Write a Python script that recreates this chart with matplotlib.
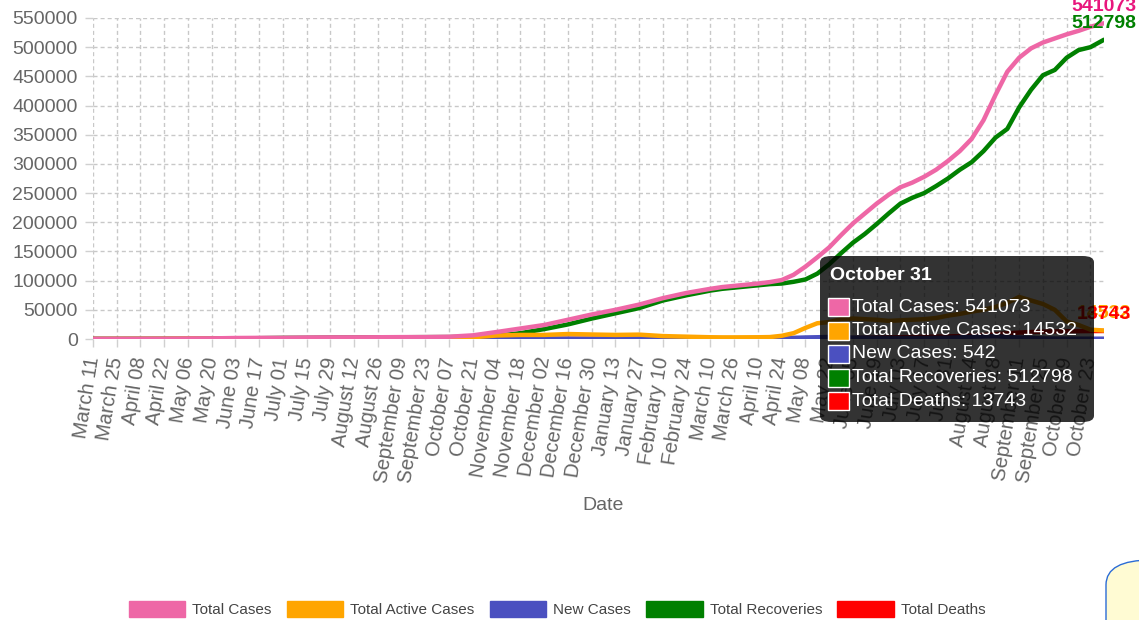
import matplotlib.pyplot as plt
from matplotlib.patches import Patch, FancyBboxPatch, Rectangle

plt.rcParams['font.family'] = ['Liberation Sans', 'DejaVu Sans']

# Tick labels (every 14 records)
tick_labels = ['March 11', 'March 25', 'April 08', 'April 22', 'May 06', 'May 20',
               'June 03', 'June 17', 'July 01', 'July 15', 'July 29', 'August 12',
               'August 26', 'September 09', 'September 23', 'October 07', 'October 21',
               'November 04', 'November 18', 'December 02', 'December 16', 'December 30',
               'January 13', 'January 27', 'February 10', 'February 24', 'March 10',
               'March 26', 'April 10', 'April 24', 'May 08', 'May 22', 'June 05',
               'June 19', 'July 03', 'July 17', 'July 31', 'August 14', 'August 28',
               'September 11', 'September 25', 'October 09', 'October 23']
tick_pos = list(range(0, 589, 14))

# record index of each sampled point: every 2 weeks, then weekly, last one = October 31
days = list(range(0, 351, 14)) + list(range(364, 589, 7)) + [596]

total_cases = [1, 106, 190, 330, 800, 1050, 1700, 1950, 2050, 2650, 2815, 2880, 3000, 3220,
               3300, 3900, 6300, 12000, 18000, 24000, 33000, 42000, 50000, 59000, 70000, 79000,
               86000, 89000, 91000, 93000, 95000, 97500, 101000, 110000, 124000, 140000,
               157000, 178000, 198000, 215000, 232000, 247000, 260000, 268000, 278000, 290000,
               305000, 322000, 343000, 375000, 418000, 458000, 482000, 498000, 508000, 515000,
               522000, 528000, 535000, 541073]
active_cases = [1, 100, 140, 220, 580, 380, 690, 540, 140, 600, 300, 170, 90, 200, 100, 600,
                3000, 6000, 7000, 7000, 8500, 7700, 7000, 7500, 5000, 4000,
                3000, 2800, 2800, 2900, 3000, 3300, 5500, 10000, 19000, 27000, 29000, 34000,
                35000, 34000, 33000, 31000, 32000, 33000, 34000, 36000, 40000, 43000, 47000,
                50000, 55000, 62000, 72000, 66000, 60000, 50000, 30000, 24000, 16000, 14532]
new_cases = [1, 10, 5, 20, 60, 15, 35, 10, 5, 50, 5, 10, 10, 15, 10, 100, 300, 400, 500, 600,
             600, 500, 700, 800, 900, 500,
             300, 250, 250, 250, 300, 600, 1500, 2000, 2600, 3000, 3500, 3000, 2300, 2200,
             2000, 1800, 1600, 1600, 1700, 1900, 2200, 2800, 3800, 4300, 4800, 3500, 2500,
             1800, 1000, 800, 700, 600, 500, 542]
recoveries = [0, 3, 40, 100, 200, 650, 1000, 1400, 1900, 2000, 2500, 2700, 2900, 3000, 3200,
              3300, 3800, 5500, 10000, 17000, 25000, 35000, 44000, 53000, 66000, 75000,
              83000, 86000, 88000, 90000, 92000, 94000, 95000, 98000, 102000, 112000, 128000,
              147000, 165000, 180000, 197000, 215000, 232000, 242000, 250000, 262000, 275000,
              290000, 303000, 322000, 345000, 360000, 397000, 427000, 452000, 461000, 482000,
              495000, 500000, 512798]
deaths = [0, 0, 7, 7, 9, 9, 10, 11, 11, 11, 11, 11, 12, 12, 13, 13, 13, 25, 70, 120, 160, 195,
          250, 300, 390, 450,
          540, 550, 560, 590, 620, 640, 650, 700, 760, 900, 1050, 1300, 1600, 2000, 2400, 2700,
          3000, 3400, 3800, 4100, 4400, 5000, 5600, 6800, 8200, 9700, 11000, 12000, 12600,
          13000, 13300, 13450, 13600, 13743]

names = ['Total Cases', 'Total Active Cases', 'New Cases', 'Total Recoveries', 'Total Deaths']
colors = ['#ee67a6', '#ffa500', '#4b50c0', '#008000', '#ff0000']
label_colors = ['#e8177d', '#ffa500', '#4b50c0', '#008000', '#ff0000']
series = [total_cases, active_cases, new_cases, recoveries, deaths]

fig = plt.figure(figsize=(11.39, 6.2), dpi=100)
ax = fig.add_axes([93/1139, 1-339/620, (1104-93)/1139, (339-18)/620])

for i, (name, vals, c) in enumerate(zip(names, series, colors)):
    ax.plot(days, vals, color=c, lw=3.2, solid_capstyle='round', solid_joinstyle='round',
            zorder=10-i)

ax.set_xlim(0, 596)
ax.set_ylim(0, 550000)
ax.set_yticks(range(0, 550001, 50000))
ax.set_yticklabels([str(v) for v in range(0, 550001, 50000)])
ax.set_xticks(tick_pos)
ax.set_xticklabels(tick_labels, rotation=81, ha='right', va='center', rotation_mode='anchor')
ax.grid(True, color='#c8c8c8', lw=1, linestyle=(0, (2.9, 2.2)))
ax.set_axisbelow(True)
for s in ax.spines.values():
    s.set_visible(False)
ax.tick_params(axis='both', colors='#666666', labelsize=14, length=6, width=1,
               direction='out')
ax.tick_params(axis='both', color='#d0d0d0')
ax.tick_params(axis='y', pad=5)
ax.tick_params(axis='x', pad=7, labelsize=14.5)
fig.text(603/1139, 1-505/620, 'Date', color='#666666', fontsize=14, ha='center', va='center')

# value labels at the last point
for i, (vals, c) in enumerate(zip(series, label_colors)):
    if i == 2:
        continue
    ax.annotate(str(vals[-1]), (days[-1], vals[-1]), xytext=(0, 12), textcoords='offset points',
                ha='center', va='center', color=c, fontsize=14, fontweight='bold',
                zorder=20, annotation_clip=False)

# tooltip
tip = FancyBboxPatch((820/1139, 1-422/620), (1094-820)/1139, (422-256)/620,
                     boxstyle='round,pad=0,rounding_size=0.01', transform=fig.transFigure,
                     facecolor='black', alpha=0.8, edgecolor='none', zorder=30)
fig.patches.append(tip)
fig.text(830/1139, 1-276/620, 'October 31', color='white', fontsize=14, fontweight='bold',
         va='center', ha='left', zorder=31)
for i, (name, vals, c) in enumerate(zip(names, series, colors)):
    yc = 307 + i*23.5
    fig.patches.append(Rectangle((828/1139, 1-(yc+9)/620), 21/1139, 18/620,
                                 transform=fig.transFigure, facecolor=c, edgecolor='white',
                                 lw=1, zorder=31))
    fig.text(852/1139, 1-yc/620, f'{name}: {vals[-1]}', color='white', fontsize=14,
             va='center', ha='left', zorder=31)

# legend
handles = [Patch(facecolor=c, edgecolor=c) for c in colors]
fig.legend(handles, names, loc='center', bbox_to_anchor=(557/1139, 1-609/620), ncol=5,
           frameon=False, fontsize=11, handlelength=3.7, handleheight=1.2,
           handletextpad=0.45, columnspacing=1.0, labelcolor='#444444')

# corner widget
fig.patches.append(FancyBboxPatch((1106/1139, 1-660/620), 80/1139, 100/620,
                                  boxstyle='round,pad=0,rounding_size=0.04',
                                  transform=fig.transFigure, facecolor='#fffbd3',
                                  edgecolor='#2b6cd6', lw=1))

fig.savefig('out.png', dpi=100)
